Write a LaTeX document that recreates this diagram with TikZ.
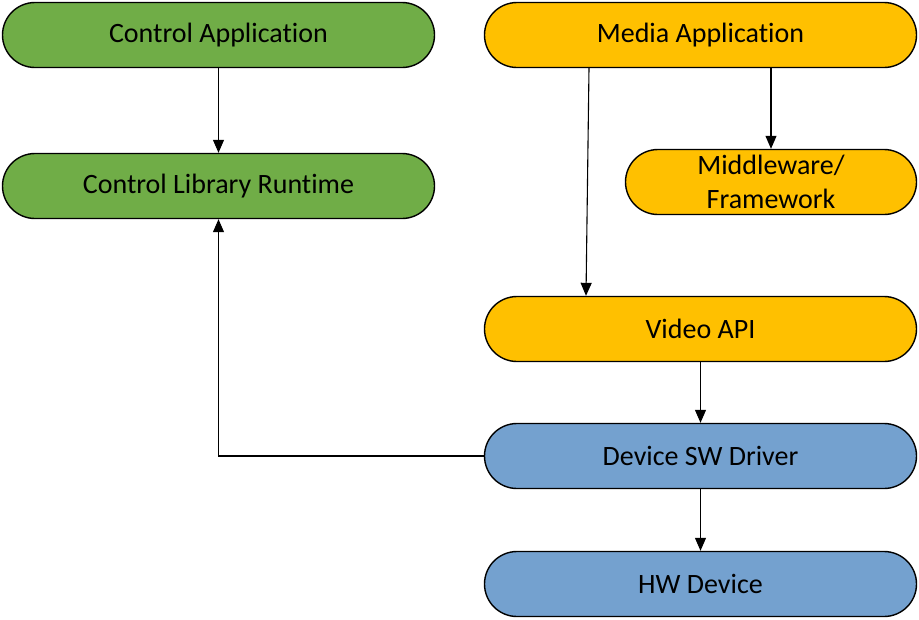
\documentclass[tikz,border=0pt]{standalone}
\usepackage{fontspec}
\setmainfont{Carlito}[Ligatures=NoCommon]
\usetikzlibrary{shapes,calc,arrows.meta}
\definecolor{ctrlgreen}{HTML}{70AD47}
\definecolor{mediaorange}{HTML}{FFC000}
\definecolor{devblue}{HTML}{74A1CF}
\begin{document}
\begin{tikzpicture}[x=1pt,y=-1pt]
			\tikzstyle{layer}=[rectangle, rounded corners=32.5pt, draw, line width=1.4pt, minimum height=65pt, minimum width=432pt, inner sep=0pt, align=center, font=\fontsize{28}{34}\selectfont]
			\tikzstyle{ctrl}=[layer, fill=ctrlgreen]
			\tikzstyle{media}=[layer, fill=mediaorange]
			\tikzstyle{dev}=[layer, fill=devblue]
			\tikzstyle{flow}=[line width=1.1pt, -{Triangle[length=13pt,width=11pt]}]
			\useasboundingbox (0,0) rectangle (919,619);
			\node[ctrl] (ctrlapp) at (218.5,35) {Control Application};
			\node[ctrl] (ctrllib) at (218.5,186) {Control Library Runtime};
			\node[media] (mediaapp) at (700.5,35) {Media Application};
			\node[media, minimum width=291pt] (middleware) at (771,182) {Middleware/\\Framework};
			\node[media] (videoapi) at (700.5,329) {Video API};
			\node[dev] (driver) at (700.5,456) {Device SW Driver};
			\node[dev] (hwdev) at (700.5,584) {HW Device};
			\draw[flow] (ctrlapp) -- (ctrllib);
			\draw[flow] ([xshift=-111.5pt]mediaapp.south) -- ([xshift=-114.5pt]videoapi.north);
			\draw[flow] (mediaapp.south -| middleware.north) -- (middleware.north);
			\draw[flow] (videoapi) -- (driver);
			\draw[flow] (driver) -- (hwdev);
			\draw[flow] (driver.west) -| (ctrllib.south);
		\end{tikzpicture}
\end{document}
